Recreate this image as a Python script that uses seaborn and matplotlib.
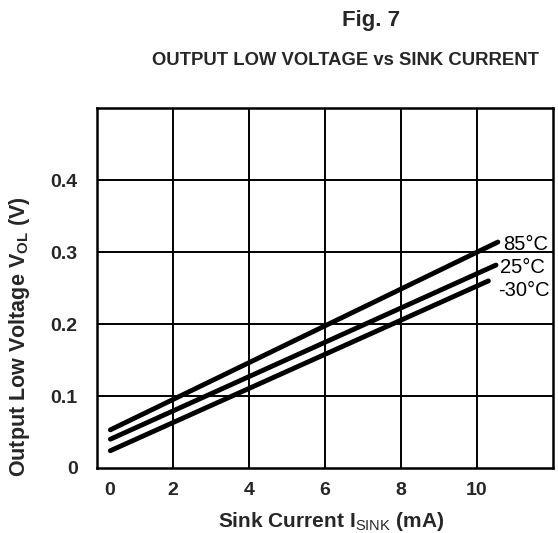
import pandas as pd
import matplotlib.pyplot as plt
import matplotlib.transforms as mtransforms
import seaborn as sns

# data (straight lines, endpoints)
temps = ["85°C", "25°C", "-30°C"]
current_start = [0.35, 0.35, 0.35]
current_end = [10.55, 10.5, 10.3]
vol_start = [0.053, 0.040, 0.024]
vol_end = [0.314, 0.282, 0.260]

x_ticks = [0, 2, 4, 6, 8, 10]
y_ticks = [0, 0.1, 0.2, 0.3, 0.4]
y_tick_labels = ["0", "0.1", "0.2", "0.3", "0.4"]

# where the temperature labels sit (data coords)
label_x = [10.68, 10.6, 10.55]
label_y = [0.310, 0.278, 0.246]

rows = []
for t, x0, x1, y0, y1 in zip(temps, current_start, current_end, vol_start, vol_end):
    rows.append({"temp": t, "current": x0, "vol": y0})
    rows.append({"temp": t, "current": x1, "vol": y1})
df = pd.DataFrame(rows)

sns.set_style("white")
plt.rcParams["font.family"] = ["Liberation Sans", "DejaVu Sans"]
plt.rcParams["mathtext.fontset"] = "custom"
plt.rcParams["mathtext.rm"] = "Liberation Sans"
plt.rcParams["mathtext.bf"] = "Liberation Sans:bold"

fig = plt.figure(figsize=(5.58, 5.33), dpi=100)
ax = fig.add_axes([0.174, 0.122, 0.817, 0.675])

sns.lineplot(data=df, x="current", y="vol", hue="temp",
             palette=["black"] * 3, linewidth=3.5, legend=False, ax=ax)

for t, lx, ly in zip(temps, label_x, label_y):
    ax.text(lx, ly, t, fontsize=14.5, va="center", ha="left", color="black")

ax.set_xlim(0, 12)
ax.set_ylim(0, 0.5)
ax.set_xticks(x_ticks)
ax.set_yticks(y_ticks)
ax.set_yticklabels(y_tick_labels)
for v in [2, 4, 6, 8, 10]:
    ax.axvline(v, color="black", linewidth=1.4, zorder=0)
for v in [0.1, 0.2, 0.3, 0.4]:
    ax.axhline(v, color="black", linewidth=1.4, zorder=0)
for s in ax.spines.values():
    s.set_linewidth(1.8)
    s.set_color("black")

ax.tick_params(length=0, labelsize=14)
ax.tick_params(axis="y", pad=14)
ax.tick_params(axis="x", pad=10)
for lab in ax.get_xticklabels() + ax.get_yticklabels():
    lab.set_fontweight("bold")
# the "0" current label sits a little right of the frame in the original
first = ax.get_xticklabels()[0]
first.set_transform(first.get_transform() +
                    mtransforms.ScaledTranslation(0.13, 0, fig.dpi_scale_trans))

ax.set_xlabel(r"Sink Current I$_{\mathrm{SINK}}$ (mA)", fontsize=15,
              fontweight="bold")
ax.xaxis.set_label_coords(0.513, -0.118)
ax.set_ylabel(r"Output Low Voltage V$_{\mathbf{OL}}$ (V)", fontsize=15.5,
              fontweight="bold")
ax.yaxis.set_label_coords(-0.143, 0.364)

fig.text(0.665, 0.962, "Fig. 7", fontsize=16, fontweight="bold", ha="center", va="center")
fig.text(0.62, 0.887, "OUTPUT LOW VOLTAGE vs SINK CURRENT", fontsize=13.3,
         fontweight="bold", ha="center", va="center")

fig.savefig("out.png", dpi=100)
